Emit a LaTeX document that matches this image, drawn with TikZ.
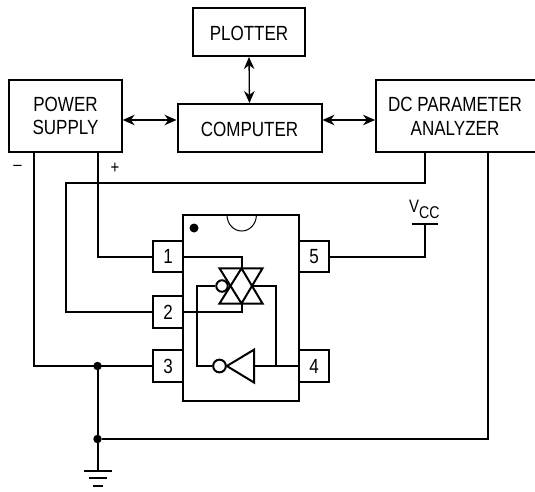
\documentclass[tikz,border=0pt]{standalone}
\usepackage{fontspec}
\setmainfont[FakeStretch=0.83]{Liberation Sans}
\usetikzlibrary{arrows.meta}
\tikzset{
  blockbox/.style={draw,line width=2pt,align=center,inner sep=0pt,font=\fontsize{20.5}{23.7}\selectfont},
  pinbox/.style={draw,line width=2pt,minimum width=30pt,minimum height=31.5pt,inner sep=0pt,font=\fontsize{20.5}{22}\selectfont},
  wire/.style={line width=2pt},
  link/.style={line width=1.3pt,{Stealth[length=12pt,width=10.5pt]}-{Stealth[length=12pt,width=10.5pt]}},
  junction/.style={circle,fill=black,inner sep=0pt,minimum size=8.5pt},
  bubble/.style={circle,draw,line width=2pt,inner sep=0pt,minimum size=11.5pt},
  plain/.style={inner sep=0pt,font=\fontsize{18}{22}\selectfont}
}
\begin{document}
\begin{tikzpicture}[x=1pt,y=-1pt]
  \useasboundingbox (0,0) rectangle (535,491);

  % Blocos
  \node[blockbox,text height=17pt,minimum width=112pt,minimum height=47.7pt] (plotter) at (249,32.2) {PLOTTER};
  \node[blockbox,minimum width=112.4pt,minimum height=71.4pt] (supply) at (65.5,116) {POWER\\SUPPLY};
  \node[blockbox,text height=17pt,minimum width=144pt,minimum height=47.7pt] (computer) at (249.5,127.9) {COMPUTER};
  \node[blockbox,draw=none,minimum width=158pt,minimum height=71.4pt] (analyzer) at (455,116) {DC PARAMETER\\ANALYZER};
  % lado direito fica fora da figura
  \draw[wire] (535,80.3) -- (376,80.3) -- (376,151.7) -- (535,151.7);

  \draw[link] (plotter.south) -- (computer.north);
  \draw[link] (supply.east |- 0,120) -- (computer.west |- 0,120);
  \draw[link] (computer.east |- 0,120) -- (analyzer.west |- 0,120);

  \node[plain] (minus) at (17.5,168) {--};
  \node[plain] (plus) at (115,168) {+};

  % Circuito integrado
  \draw[wire] (183,215) rectangle (299,400.5);
  \draw[line width=1pt] (227,215) arc[start angle=180,end angle=0,x radius=14.7,y radius=16];
  \node[junction,minimum size=9pt] (mark) at (194,228) {};

  \node[pinbox] (pinA) at (168,256.5) {1};
  \node[pinbox] (pinB) at (168,312) {2};
  \node[pinbox] (pinC) at (168,366) {3};
  \node[pinbox] (pinD) at (314,366) {4};
  \node[pinbox] (pinE) at (314,256.5) {5};

  % Fios externos
  \coordinate (minusOut) at (34,151.7);
  \coordinate (plusOut) at (98,151.7);
  \coordinate (senseOut) at (425,151.7);
  \coordinate (returnOut) at (488,151.7);
  \coordinate (senseTurn) at (66,183.3);
  \coordinate (vcc) at (424.5,223.5);
  \coordinate (earth) at (97.5,470.5);
  \node[junction] (nodeA) at (97.5,366) {};
  \node[junction] (nodeB) at (97.5,439) {};

  \draw[wire] (plusOut) |- (pinA.west);
  \draw[wire] (senseOut) |- (senseTurn) |- (pinB.west);
  \draw[wire] (minusOut) |- (pinC.west);
  \draw[wire] (nodeA) -- (nodeB) -- (earth);
  \draw[wire] (nodeB) -| (returnOut);
  \draw[wire] (pinE.east) -| (vcc);
  \draw[wire] (411.5,223.5) -- (438,223.5);
  \node[plain,anchor=base west] (vlabel) at (409,212.7) {V\raisebox{-5.3pt}{\fontsize{17}{17}\selectfont CC}};

  % Terra
  \draw[wire] (83.5,470.5) -- (112,470.5);
  \draw[wire] (89,478) -- (107,478);
  \draw[wire] (93,486) -- (103,486);

  % Porta de transmissao
  \coordinate (gateTop) at (241.5,268.3);
  \coordinate (gateBot) at (241.5,303.5);
  \draw[wire] (219.5,268.3) -- (262.5,268.3) -- (gateBot) -- cycle;
  \draw[wire] (219.5,303.5) -- (262.5,303.5) -- (gateTop) -- cycle;
  \node[bubble] (gateBub) at (222,286) {};
  \draw[wire] (pinA.east) -| (gateTop);
  \draw[wire] (pinB.east) -| (gateBot);

  % Inversor
  \node[bubble,minimum size=12.7pt] (invBub) at (219.5,366) {};
  \coordinate (invIn) at (254,366);
  \draw[wire] (invBub.east) -- (254,349.7) -- (254,382.5) -- cycle;
  \draw[wire] (gateBub.west) -| (197,366) -- (invBub.west);
  \draw[wire] (invIn) -- (pinD.west);
  \draw[wire] (276,366) |- (252,286);
\end{tikzpicture}
\end{document}
